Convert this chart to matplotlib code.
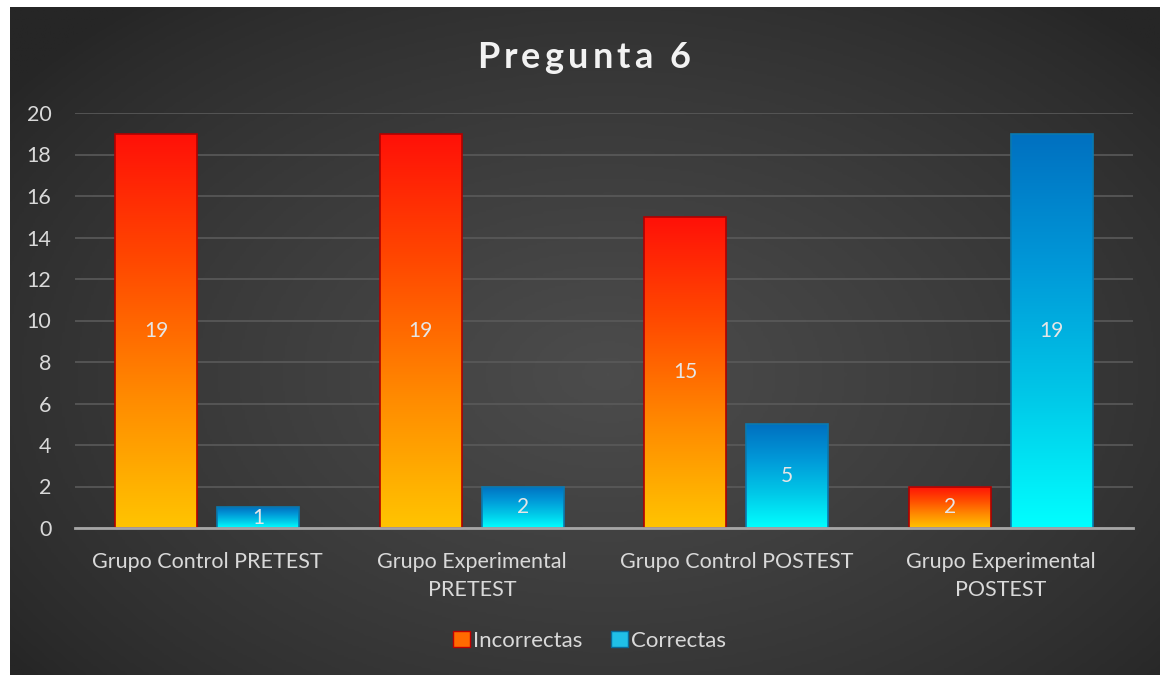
import numpy as np
import matplotlib.pyplot as plt
from matplotlib.colors import LinearSegmentedColormap
from matplotlib.patches import Patch

plt.rcParams['font.family'] = ['Lato', 'DejaVu Sans']

# data
grupos = ['Grupo Control PRETEST', 'Grupo Experimental\nPRETEST',
          'Grupo Control POSTEST', 'Grupo Experimental\nPOSTEST']
incorrectas = [19, 19, 15, 2]
correctas = [1, 2, 5, 19]
titulo = 'Pregunta 6'

fig = plt.figure(figsize=(11.61, 6.75), dpi=100, facecolor='white')

# dark background with soft light in the middle
bg = fig.add_axes([10/1161, 0, 1150/1161, 668/675])
bg.set_axis_off()
yy, xx = np.mgrid[0:1:300j, 0:1:500j]
r = np.sqrt(((xx - 0.52) / 0.9) ** 2 + ((yy - 0.55) / 1.0) ** 2)
shade = np.clip(1 - r / 0.72, 0, 1) ** 0.8
bg_cmap = LinearSegmentedColormap.from_list('bg', ['#262626', '#4c4c4c'])
bg.imshow(shade, cmap=bg_cmap, aspect='auto', extent=[0, 1, 0, 1], vmin=0, vmax=1)
bg.set_xlim(0, 1)
bg.set_ylim(0, 1)

ax = fig.add_axes([75/1161, 1 - 528/675, 1058/1161, 415/675])
ax.patch.set_alpha(0)

x = np.arange(len(grupos))
w = 0.31
off = 0.193

red_cmap = LinearSegmentedColormap.from_list('red', ['#FFC400', '#FF8A00', '#FF4A00', '#FF1008'])
blue_cmap = LinearSegmentedColormap.from_list('blue', ['#00FFFF', '#00C8E8', '#0098D8', '#0070C0'])

b1 = ax.bar(x - off, incorrectas, w, color='none', edgecolor='#B00000', linewidth=1.2, zorder=3)
b2 = ax.bar(x + off, correctas, w, color='none', edgecolor='#0A7AB0', linewidth=1.2, zorder=3)

grad = np.linspace(0, 1, 256).reshape(-1, 1)
for bars, cmap in [(b1, red_cmap), (b2, blue_cmap)]:
    for p in bars:
        x0, y0 = p.get_x(), p.get_y()
        im = ax.imshow(grad, cmap=cmap, aspect='auto', origin='lower',
                       extent=[x0, x0 + p.get_width(), y0, y0 + p.get_height()], zorder=2)
        im.set_clip_path(p)
        ax.text(x0 + p.get_width() / 2, p.get_height() / 2, str(int(p.get_height())),
                ha='center', va='center', color='#E6E6E6', fontsize=15, zorder=4)

ax.set_xlim(-0.5, 3.5)
ax.set_ylim(0, 20)
ax.set_yticks(range(0, 21, 2))
ax.yaxis.grid(True, color='#5a5a5a', linewidth=1.2, zorder=0)
ax.set_axisbelow(True)
for s in ['top', 'right', 'left']:
    ax.spines[s].set_visible(False)
ax.spines['bottom'].set_color('#A6A6A6')
ax.spines['bottom'].set_linewidth(2)
ax.spines['bottom'].set_zorder(5)
ax.set_xticks(x)
ax.set_xticklabels(grupos, color='#D9D9D9', fontsize=15.5, linespacing=1.55)
ax.tick_params(axis='x', length=0, pad=17)
ax.tick_params(axis='y', length=0, pad=17, labelcolor='#D9D9D9', labelsize=15.5)

# title with letter spacing
fig.canvas.draw()
rend = fig.canvas.get_renderer()
tprops = dict(color='#F2F2F2', fontsize=26, fontweight='bold', va='center')
spacing = 4.2
parts = []
for ch in titulo:
    t = fig.text(0, 0, ch, **tprops)
    cw = t.get_window_extent(rend).width if ch != ' ' else 8
    parts.append((t, cw))
total = sum(cw for _, cw in parts) + spacing * (len(parts) - 1)
xpos = 1161 / 2 - total / 2 + 3
for t, cw in parts:
    t.set_position((xpos / 1161, 1 - 57 / 675))
    xpos += cw + spacing

handles = [Patch(facecolor='#FF6A00', edgecolor='#C00000', label='Incorrectas'),
           Patch(facecolor='#20C0E8', edgecolor='#0A6A9A', label='Correctas')]
leg = fig.legend(handles=handles, loc='center', bbox_to_anchor=(0.508, 1 - 641/675), ncol=2,
                 frameon=False, fontsize=16, handlelength=0.75, handleheight=0.75,
                 handletextpad=0.15, columnspacing=1.3, labelcolor='#D9D9D9')

fig.savefig('out.png', dpi=100, facecolor='white')
